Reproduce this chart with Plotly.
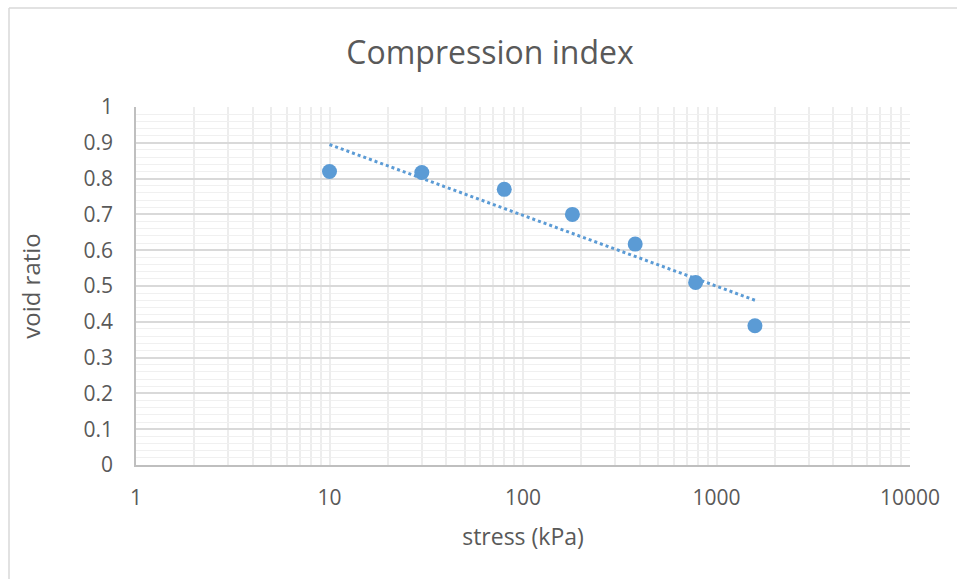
import numpy as np
import plotly.graph_objects as go

# Consolidation test readings
stress_kpa = [10, 30, 80, 180, 380, 780, 1580]
void_ratio = [0.82, 0.817, 0.77, 0.70, 0.617, 0.51, 0.389]

x_tick_vals = [1, 10, 100, 1000, 10000]
x_tick_text = ["1", "10", "100", "1000", "10000"]

# Logarithmic trend line: e = a*ln(sigma) + b
a, b = np.polyfit(np.log(stress_kpa), void_ratio, 1)
trend_x = np.exp(np.linspace(np.log(stress_kpa[0]), np.log(stress_kpa[-1]), 60))
trend_y = a * np.log(trend_x) + b

BLUE = "#5B9BD5"
TEXT = "#595959"
FONT = "'Open Sans', Lato, sans-serif"

minor_x = [m * 10 ** d for d in range(4) for m in range(2, 10)]

fig = go.Figure()
fig.add_trace(go.Scatter(
    x=trend_x, y=trend_y, mode="lines",
    line=dict(color=BLUE, width=3, dash="dot"),
    hoverinfo="skip", showlegend=False,
))
fig.add_trace(go.Scatter(
    x=stress_kpa, y=void_ratio, mode="markers",
    marker=dict(color=BLUE, size=15),
    showlegend=False,
))

fig.update_layout(
    width=957, height=579,
    margin=dict(l=136, r=47, t=107, b=114),
    paper_bgcolor="white", plot_bgcolor="white",
    font=dict(family=FONT, color=TEXT),
    title=dict(text="Compression index", x=490 / 957, xanchor="center",
               y=1 - 53 / 579, yanchor="middle",
               font=dict(size=32, color=TEXT, family=FONT)),
    shapes=[
        dict(type="line", xref="paper", yref="paper", x0=-127 / 774, x1=1.2,
             y0=1 + 99 / 358, y1=1 + 99 / 358, line=dict(color="#D9D9D9", width=1.5)),
        dict(type="line", xref="paper", yref="paper", x0=-127 / 774, x1=-127 / 774,
             y0=1 + 99 / 358, y1=-0.5, line=dict(color="#D9D9D9", width=1.5)),
    ],
)

fig.update_xaxes(
    type="log", range=[0, 4],
    tickvals=x_tick_vals, ticktext=x_tick_text,
    tickfont=dict(size=21, color=TEXT), ticks="outside", ticklen=13, tickcolor="rgba(0,0,0,0)",
    showgrid=True, gridcolor="#EDEDED", gridwidth=1.5,
    minor=dict(tickvals=minor_x, showgrid=True, gridcolor="#EDEDED", gridwidth=1.5),
    showline=True, linecolor="#BFBFBF", linewidth=1.5, mirror=False,
    zeroline=False,
    title=dict(text="stress (kPa)", font=dict(size=23, color=TEXT), standoff=19),
)
fig.update_yaxes(
    range=[0, 1], dtick=0.1, tick0=0,
    tickfont=dict(size=21, color=TEXT), ticks="outside", ticklen=17, tickcolor="rgba(0,0,0,0)",
    showgrid=True, gridcolor="#D9D9D9", gridwidth=1.5,
    minor=dict(dtick=0.02, showgrid=True, gridcolor="#F0F0F0", gridwidth=1.2),
    showline=True, linecolor="#BFBFBF", linewidth=1.5,
    zeroline=False,
    title=dict(text="void ratio", font=dict(size=24, color=TEXT), standoff=36),
)

fig.write_html("out.html")
